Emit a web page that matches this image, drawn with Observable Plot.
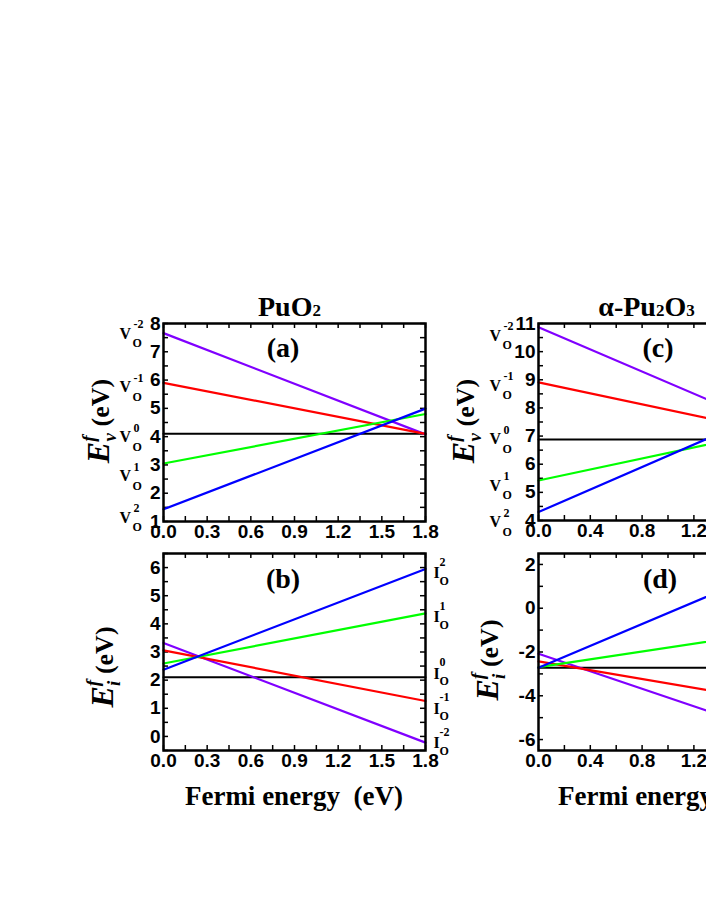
<!DOCTYPE html>
<html><head><meta charset="utf-8">
<script src="https://cdn.jsdelivr.net/npm/d3@7"></script>
<script src="https://cdn.jsdelivr.net/npm/@observablehq/plot@0.6"></script>
<style>
html,body{margin:0;padding:0;background:#fff;}
#fig{position:relative;width:706px;height:913px;overflow:hidden;background:#fff;}
#fig svg{position:absolute;}
</style></head><body><div id="fig"></div>
<script>
// ---------- data ----------
const fermiPuO2 = [0, 1.8];
const fermiPu2O3 = [0, 2.0];

// (a) PuO2 vacancy formation energies (eV) at the two ends of the Fermi range
const vacPuO2_m2 = [7.66, 4.08];
const vacPuO2_m1 = [5.90, 4.10];
const vacPuO2_0  = [4.10, 4.10];
const vacPuO2_p1 = [3.05, 4.80];
const vacPuO2_p2 = [1.43, 4.99];

// (b) PuO2 interstitial formation energies
const intPuO2_p2 = [2.37, 5.95];
const intPuO2_p1 = [2.59, 4.37];
const intPuO2_0  = [2.10, 2.10];
const intPuO2_m1 = [3.06, 1.26];
const intPuO2_m2 = [3.32, -0.22];

// (c) alpha-Pu2O3 vacancy formation energies
const vacPu2O3_m2 = [10.87, 6.93];
const vacPu2O3_m1 = [8.91, 6.96];
const vacPu2O3_0  = [6.88, 6.88];
const vacPu2O3_p1 = [5.42, 7.38];
const vacPu2O3_p2 = [4.30, 8.30];

// (d) alpha-Pu2O3 interstitial formation energies
const intPu2O3_p2 = [-2.72, 2.28];
const intPu2O3_p1 = [-2.69, -0.91];
const intPu2O3_0  = [-2.72, -2.72];
const intPu2O3_m1 = [-2.43, -4.44];
const intPu2O3_m2 = [-2.08, -6.08];

// charge-state labels and their vertical positions
const chargeLabelsV = ["-2", "-1", "0", "1", "2"];
const vLabelYPuO2 = [7.65, 5.75, 3.98, 2.60, 1.14];
const vLabelYPu2O3 = [10.57, 8.80, 6.90, 5.24, 3.94];
const chargeLabelsI = ["2", "1", "0", "-1", "-2"];
const iLabelYPuO2 = [5.81, 4.24, 2.24, 0.99, -0.24];

// tick labels / tick positions
const xTicksPuO2 = [0, 0.3, 0.6, 0.9, 1.2, 1.5, 1.8];
const xMinorPuO2 = [0, 0.15, 0.3, 0.45, 0.6, 0.75, 0.9, 1.05, 1.2, 1.35, 1.5, 1.65, 1.8];
const xTicksPu2O3 = [0, 0.4, 0.8, 1.2, 1.6, 2.0];
const xMinorPu2O3 = [0, 0.2, 0.4, 0.6, 0.8, 1.0, 1.2, 1.4, 1.6, 1.8, 2.0];
const yTicksA = [1, 2, 3, 4, 5, 6, 7, 8];
const yMinorA = [1, 1.5, 2, 2.5, 3, 3.5, 4, 4.5, 5, 5.5, 6, 6.5, 7, 7.5, 8];
const yTicksB = [0, 1, 2, 3, 4, 5, 6];
const yMinorB = [-0.5, 0, 0.5, 1, 1.5, 2, 2.5, 3, 3.5, 4, 4.5, 5, 5.5, 6, 6.5];
const yTicksC = [4, 5, 6, 7, 8, 9, 10, 11];
const yMinorC = [4, 4.5, 5, 5.5, 6, 6.5, 7, 7.5, 8, 8.5, 9, 9.5, 10, 10.5, 11];
const yTicksD = [-6, -4, -2, 0, 2];
const yMinorD = [-6, -5, -4, -3, -2, -1, 0, 1, 2];

const colors = {m2: "#8000ff", m1: "#ff0000", z: "#000000", p1: "#00ff00", p2: "#0000ff"};

// ---------- drawing ----------
const times = "'Liberation Serif', 'Times New Roman', serif";
const arial = "'Liberation Sans', Arial, sans-serif";
const fig = document.getElementById("fig");

function makePanel(cfg) {
  const ML = 70, MR = 45, MT = 10, MB = 30, tl = 5;
  const W = ML + cfg.fw + MR, H = MT + cfg.fh + MB;
  const marks = [
    Plot.ruleX(cfg.xMinor, {x: d => d, insetTop: cfg.fh - tl, strokeWidth: 1.5}),
    Plot.ruleX(cfg.xMinor, {x: d => d, insetBottom: cfg.fh - tl, strokeWidth: 1.5}),
    Plot.ruleY(cfg.yMinor, {y: d => d, insetRight: cfg.fw - tl, strokeWidth: 1.5}),
    Plot.ruleY(cfg.yMinor, {y: d => d, insetLeft: cfg.fw - tl, strokeWidth: 1.5})
  ];
  for (const s of cfg.series) {
    marks.push(Plot.line(cfg.xs.map((x, i) => ({x, y: s.ys[i]})),
      {x: "x", y: "y", stroke: s.color, strokeWidth: s.color === "#000000" ? 2 : 2.2}));
  }
  marks.push(Plot.frame({stroke: "black", strokeWidth: 2.5}));
  marks.push(Plot.axisX(cfg.xTicks, {anchor: "bottom", tickSize: 0, tickPadding: 3, label: null,
    tickFormat: d3.format(".1f"), fontSize: 19, fontWeight: "bold", fontFamily: arial}));
  marks.push(Plot.axisY(cfg.yTicks, {anchor: "left", tickSize: 0, tickPadding: 3, label: null,
    tickFormat: d => String(d), fontSize: 19, fontWeight: "bold", fontFamily: arial}));
  if (cfg.labels) {
    const L = cfg.labels;
    const data = L.ys.map((y, i) => ({y, c: L.charges[i]}));
    const common = {y: "y", frameAnchor: L.side, textAnchor: "start", fontFamily: times, fontWeight: "bold", fill: "black"};
    marks.push(Plot.text(data, {...common, text: () => L.letter, dx: L.dx, fontSize: 16}));
    marks.push(Plot.text(data, {...common, text: () => "O", dx: L.dx + L.subDx, dy: L.subDy, fontSize: 12}));
    marks.push(Plot.text(data, {...common, text: d => d.c, dx: L.dx + L.supDx, dy: L.supDy, fontSize: 12}));
  }
  const svg = Plot.plot({
    width: W, height: H, marginLeft: ML, marginRight: MR, marginTop: MT, marginBottom: MB,
    x: {domain: cfg.xDomain, label: null}, y: {domain: cfg.yDomain, label: null},
    style: {fontFamily: arial, fontSize: "19px", fontWeight: "bold", background: "transparent", overflow: "visible"},
    marks
  });
  svg.style.position = "absolute";
  svg.style.left = (cfg.fx - ML) + "px";
  svg.style.top = (cfg.fy - MT) + "px";
  svg.style.maxWidth = "none";
  fig.appendChild(svg);
}

makePanel({fx: 163, fy: 323, fw: 262, fh: 198, xDomain: [0, 1.8], yDomain: [1, 8],
  xs: fermiPuO2, xTicks: xTicksPuO2, xMinor: xMinorPuO2, yTicks: yTicksA, yMinor: yMinorA,
  series: [
    {ys: vacPuO2_0, color: colors.z}, {ys: vacPuO2_m2, color: colors.m2}, {ys: vacPuO2_m1, color: colors.m1},
    {ys: vacPuO2_p1, color: colors.p1}, {ys: vacPuO2_p2, color: colors.p2}],
  labels: {ys: vLabelYPuO2, charges: chargeLabelsV, side: "left", letter: "V", dx: -44, subDx: 13, subDy: 10, supDx: 14, supDy: -9}
});
makePanel({fx: 163, fy: 553, fw: 262, fh: 197, xDomain: [0, 1.8], yDomain: [-0.5, 6.5],
  xs: fermiPuO2, xTicks: xTicksPuO2, xMinor: xMinorPuO2, yTicks: yTicksB, yMinor: yMinorB,
  series: [
    {ys: intPuO2_0, color: colors.z}, {ys: intPuO2_m2, color: colors.m2}, {ys: intPuO2_m1, color: colors.m1},
    {ys: intPuO2_p1, color: colors.p1}, {ys: intPuO2_p2, color: colors.p2}],
  labels: {ys: iLabelYPuO2, charges: chargeLabelsI, side: "right", letter: "I", dx: 8, subDx: 6, subDy: 8, supDx: 6, supDy: -11}
});
makePanel({fx: 538, fy: 323, fw: 259, fh: 197, xDomain: [0, 2.0], yDomain: [4, 11],
  xs: fermiPu2O3, xTicks: xTicksPu2O3, xMinor: xMinorPu2O3, yTicks: yTicksC, yMinor: yMinorC,
  series: [
    {ys: vacPu2O3_0, color: colors.z}, {ys: vacPu2O3_m2, color: colors.m2}, {ys: vacPu2O3_m1, color: colors.m1},
    {ys: vacPu2O3_p1, color: colors.p1}, {ys: vacPu2O3_p2, color: colors.p2}],
  labels: {ys: vLabelYPu2O3, charges: chargeLabelsV, side: "left", letter: "V", dx: -49, subDx: 13, subDy: 10, supDx: 14, supDy: -9}
});
makePanel({fx: 538, fy: 553, fw: 259, fh: 197, xDomain: [0, 2.0], yDomain: [-6.5, 2.5],
  xs: fermiPu2O3, xTicks: xTicksPu2O3, xMinor: xMinorPu2O3, yTicks: yTicksD, yMinor: yMinorD,
  series: [
    {ys: intPu2O3_0, color: colors.z}, {ys: intPu2O3_m2, color: colors.m2}, {ys: intPu2O3_m1, color: colors.m1},
    {ys: intPu2O3_p1, color: colors.p1}, {ys: intPu2O3_p2, color: colors.p2}]
});

// ---------- text annotations ----------
const ov = d3.select(fig).append("svg")
  .attr("width", 706).attr("height", 913)
  .style("left", "0px").style("top", "0px").style("pointer-events", "none")
  .attr("font-family", times).attr("font-weight", "bold");

function title(x, y, parts) {
  const t = ov.append("text").attr("x", x).attr("y", y).attr("text-anchor", "middle").attr("font-size", 28);
  for (const [s, small] of parts) t.append("tspan").attr("font-size", small ? 17 : 28).text(s);
}
title(289.5, 316, [["PuO", false], ["2", true]]);
title(646.5, 316, [["\u03b1-Pu", false], ["2", true], ["O", false], ["3", true]]);

const panelTags = [["(a)", 283, 357], ["(b)", 283, 588], ["(c)", 658, 357], ["(d)", 660, 588]];
for (const [s, x, y] of panelTags)
  ov.append("text").attr("x", x).attr("y", y).attr("text-anchor", "middle").attr("font-size", 28).text(s);

for (const cx of [294, 667])
  ov.append("text").attr("x", cx).attr("y", 805).attr("text-anchor", "middle").attr("font-size", 27)
    .text("Fermi energy\u00a0 (eV)");

function ytitle(x, y, sub) {
  const t = ov.append("text").attr("transform", `translate(${x},${y}) rotate(-90)`).attr("text-anchor", "middle");
  t.append("tspan").attr("font-style", "italic").attr("font-size", 32).text("E");
  t.append("tspan").attr("font-style", "italic").attr("font-size", 19).attr("dy", -14).text("f");
  t.append("tspan").attr("font-style", "italic").attr("font-size", 19).attr("dx", -6).attr("dy", 21).text(sub);
  t.append("tspan").attr("font-size", 26).attr("dy", -7).text(" (eV)");
}
ytitle(109, 421, "v");
ytitle(113, 667, "i");
ytitle(474, 421, "v");
ytitle(498, 660, "i");
</script></body></html>
